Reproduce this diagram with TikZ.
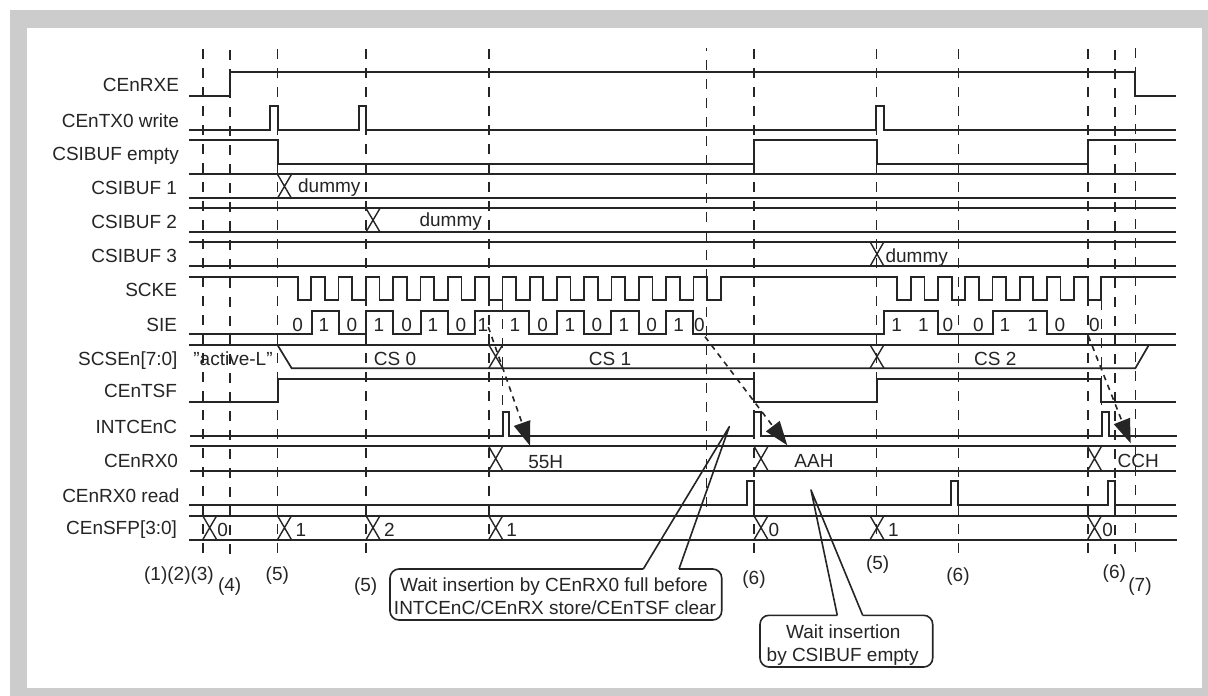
\documentclass[tikz,border=0pt]{standalone}
\usepackage{fontspec}
\setmainfont{Liberation Sans}
\usetikzlibrary{arrows.meta}
\definecolor{ink}{HTML}{262525}
\definecolor{frame}{HTML}{CCCCCC}
\tikzset{
  guide/.style={draw=ink,line width=1.6pt,dash pattern=on 10pt off 9pt},
  wave/.style={draw=ink,line width=1.7pt},
  xing/.style={draw=ink,line width=1.4pt},
  lab/.style={inner sep=0pt,outer sep=0pt,text=ink,font=\fontsize{19}{22}\selectfont},
  sig/.style={lab,anchor=base east},
  txt/.style={lab,anchor=base},
  callout/.style={draw=ink,line width=1.6pt},
  causal/.style={draw=ink,line width=1.6pt,dash pattern=on 5.5pt off 5pt,
     -{Triangle[length=24pt,width=17pt,fill=ink]}},
}
\newcommand{\xcr}[3]{\draw[xing] (#1,#2) -- (#1+14,#3) (#1,#3) -- (#1+14,#2);}
\begin{document}
\begin{tikzpicture}[x=1pt,y=-1pt]
\useasboundingbox (0,0) rectangle (1208,696);
\fill[frame] (10,10) rectangle (1208,696);
\fill[white] (27,28) rectangle (1202,688);

% guides
\foreach \gx/\ga/\gb in {202.7/49/558,230/50/558,277.3/49/558,366/49/558,488.7/49/540,
  754/49/558,876.5/49/540,958.3/49/558,1087.7/49/557,1114.7/50/560,1135.3/48/558}
  \draw[guide] (\gx,\ga) -- (\gx,\gb);
\draw[guide,dash phase=7pt] (706.3,48) -- (706.3,510);
\draw[guide] (502.5,300) -- (502.5,412);
\draw[guide] (1101.3,300) -- (1101.3,412);

% CEnRXE
\draw[wave] (189,96) -- (230,96) -- (230,72.3) -- (1135.3,72.3) -- (1135.3,96) -- (1176,96);
% CEnTX0 write
\draw[wave] (189,129.7) -- (270.3,129.7) |- (277.7,106.3) |- (359,129.7) |- (366.3,106.3) |- (876.3,129.7)
   |- (883.7,106.3) |- (1176,129.7);
% CSIBUF empty
\draw[wave] (189,140) -- (277.7,140) |- (754,164) |- (876.7,140) |- (1087.7,164) |- (1176,140);
% data buses
\draw[wave] (189,174.3) -- (1176,174.3) (189,198.3) -- (1176,198.3);
\draw[wave] (189,208.3) -- (1176,208.3) (189,232) -- (1176,232);
\draw[wave] (189,241.7) -- (1176,241.7) (189,266.3) -- (1176,266.3);
\xcr{277.5}{174.3}{198.3}
\xcr{366}{208.3}{232}
\xcr{870}{241.7}{266.3}
% SCKE
\draw[wave] (189,276.7)
  \foreach \k in {0,2,...,30} { -- ({297.7+\k*13.645},276.7) -- ({297.7+\k*13.645},300.3)
     -- ({297.7+(\k+1)*13.645},300.3) -- ({297.7+(\k+1)*13.645},276.7) }
  \foreach \k in {0,2,...,14} { -- ({897.3+\k*13.6},276.7) -- ({897.3+\k*13.6},300.3)
     -- ({897.3+(\k+1)*13.6},300.3) -- ({897.3+(\k+1)*13.6},276.7) }
  -- (1176,276.7);
% SIE
\draw[wave] (189,334.3) -- (311.7,334.3) |- (338.7,310.7) |- (366,334.3) |- (393.3,310.7) |- (420.7,334.3)
  |- (448,310.7) |- (475.3,334.3) |- (529.3,310.7) |- (556.7,334.3) |- (584,310.7) |- (611.3,334.3)
  |- (638.7,310.7) |- (666,334.3) |- (693,310.7) |- (883.7,334.3) |- (938,310.7) |- (992.7,334.3)
  |- (1047,310.7) |- (1176,334.3);
% SCSEn
\draw[wave] (189,344.7) -- (1176,344.7);
\draw[wave] (277.3,344.7) -- (291.7,368.3) -- (1135.3,368.3) -- (1149,344.7);
\xcr{488.7}{344.7}{368.3}
\xcr{870}{344.7}{368.3}
% CEnTSF
\draw[wave] (189,402.3) -- (277.7,402.3) |- (754,378.7) |- (876.7,402.3) |- (1101,378.7) |- (1176,402.3);
% INTCEnC
\draw[wave] (190,435.7) -- (502.7,435.7) |- (509.3,411.7) |- (754,435.7) |- (761.3,411.7) |- (1102,435.7)
  |- (1109,411.7) |- (1176.5,435.7);
% CEnRX0
\draw[wave] (190,446.3) -- (1176,446.3) (190,470.7) -- (1176,470.7);
\xcr{488.7}{446.3}{470.7}
\xcr{754}{446.3}{470.7}
\xcr{1087.5}{446.3}{470.7}
% CEnRX0 read
\draw[wave] (189,504.7) -- (747,504.7) |- (754,480.7) |- (951,504.7) |- (958.3,480.7) |- (1107.7,504.7)
  |- (1114.7,480.7) |- (1176,504.7);
% CEnSFP
\draw[wave] (189,515.7) -- (1177,515.7) (189,539.7) -- (1177,539.7);
\foreach \gx in {202.7,277.5,366,488.7,754,870,1087.5} { \xcr{\gx}{515.7}{539.7} }

% signal names
\node[sig] (nRXE)  at (179,91.7)  {CEnRXE};
\node[sig] (nTX)   at (179,127)   {CEnTX0 write};
\node[sig] (nEMP)  at (179,160.5) {CSIBUF empty};
\node[sig] (nB1)   at (177,194.3) {CSIBUF 1};
\node[sig] (nB2)   at (177,228.3) {CSIBUF 2};
\node[sig] (nB3)   at (177,262.7) {CSIBUF 3};
\node[sig] (nSCK)  at (177,296)   {SCKE};
\node[sig] (nSIE)  at (177,331)   {SIE};
\node[sig] (nCS)   at (177.5,365) {SCSEn[7:0]};
\node[sig] (nTSF)  at (177,397.7) {CEnTSF};
\node[sig] (nINT)  at (177,433)   {INTCEnC};
\node[sig] (nRX)   at (178,467.7) {CEnRX0};
\node[sig] (nRD)   at (179.5,502.3) {CEnRX0 read};
\node[sig] (nSFP)  at (177,534)   {CEnSFP[3:0]};

% values
\node[txt] (dA) at (329.3,192) {dummy};
\node[txt] (dB) at (450.7,226.3) {dummy};
\node[txt] (dC) at (916.7,262) {dummy};
\foreach \gx/\v [count=\i] in {297.7/0,324/1,352/0,379/1,406.7/0,433/1,461/0,483/1,515/1,542.7/0,570/1,597/0,624/1,651.7/0,678.7/1,699.3/0,
  896.7/1,923.3/1,948/0,978.3/0,1005/1,1032.7/1,1060/0,1094.3/0}
  \node[txt] (sie\i) at (\gx,331.7) {\v};
\node[txt] (csL) at (233,365) {"active-L"};
\node[txt] (cs0) at (395,365) {CS 0};
\node[txt] (cs1) at (610,365) {CS 1};
\node[txt] (cs2) at (995.3,365) {CS 2};
\node[txt] (hA) at (545.7,468) {55H};
\node[txt] (hB) at (814,467) {AAH};
\node[txt] (hC) at (1138.3,467.5) {CCH};
\foreach \gx/\v [count=\i] in {222.7/0,301/1,389.3/2,511.7/1,774/0,893.3/1,1107.7/0}
  \node[txt] (fp\i) at (\gx,536.5) {\v};

% step numbers
\node[txt] (s123) at (179,580.5) {(1)(2)(3)};
\node[txt] (s4)  at (229.7,591.5) {(4)};
\node[txt] (s5a) at (277.3,580.5) {(5)};
\node[txt] (s5b) at (365.7,591.5) {(5)};
\node[txt] (s6a) at (754,584) {(6)};
\node[txt] (s5c) at (877.7,569.5) {(5)};
\node[txt] (s6b) at (958,581.5) {(6)};
\node[txt] (s6c) at (1114.3,578.5) {(6)};
\node[txt] (s7)  at (1140,591.5) {(7)};

% causal arrows
\coordinate (aS) at (488.3,327);  \coordinate (aT) at (530,445.7);
\coordinate (bS) at (705,336.7);  \coordinate (bT) at (787.3,445.3);
\coordinate (cS) at (1088.3,336); \coordinate (cT) at (1130.7,443.3);
\draw[causal] (aS) -- (aT);
\draw[causal] (bS) -- (bT);
\draw[causal] (cS) -- (cT);

% callout 1
\coordinate (p1a) at (643.3,569); \coordinate (p1b) at (679,569); \coordinate (t1) at (729.3,426.7);
\draw[callout,rounded corners=9pt] (p1b) -- (721.7,569) -- (721.7,620) -- (390,620) -- (390,569) -- (p1a);
\draw[callout,line join=round] (p1a) -- (t1) -- (p1b);
\node[txt] (w1a) at (554,591.7) {Wait insertion by CEnRX0 full before};
\node[txt] (w1b) at (555,614) {INTCEnC/CEnRX store/CEnTSF clear};

% callout 2
\coordinate (p2a) at (837.3,615.3); \coordinate (p2b) at (862.7,615.3); \coordinate (t2) at (811,490);
\draw[callout,rounded corners=9pt] (p2b) -- (932.7,615.3) -- (932.7,667) -- (760,667) -- (760,615.3) -- (p2a);
\draw[callout,line join=round] (p2a) -- (t2) -- (p2b);
\node[txt] (w2a) at (843.3,638.5) {Wait insertion};
\node[txt] (w2b) at (842.7,661) {by CSIBUF empty};
\end{tikzpicture}
\end{document}
